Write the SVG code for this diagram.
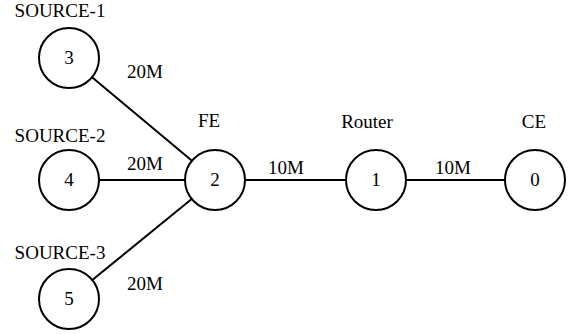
<svg xmlns="http://www.w3.org/2000/svg" width="570" height="334" viewBox="0 0 570 334">
<style>
text{font-family:"Liberation Serif","Times New Roman",serif;font-size:19px;fill:#000}
.n circle{fill:#fff;stroke:#000;stroke-width:2}
.n text{text-anchor:middle}
#edges line{stroke:#000;stroke-width:2}
</style>
<rect width="570" height="334" fill="#fff"/>
<g id="edges">
<line x1="69" y1="58" x2="215" y2="180"/>
<line x1="69" y1="180" x2="215" y2="180"/>
<line x1="69" y1="299" x2="215" y2="180"/>
<line x1="215" y1="180" x2="376" y2="180"/>
<line x1="376" y1="180" x2="535" y2="180"/>
<text x="127" y="78">20M</text>
<text x="127" y="170">20M</text>
<text x="127" y="290">20M</text>
<text x="268" y="174">10M</text>
<text x="435" y="174">10M</text>
</g>
<g id="node3" class="n"><circle cx="69" cy="58" r="30"/><text x="69" y="64">3</text><text x="60" y="17">SOURCE-1</text></g>
<g id="node4" class="n"><circle cx="69" cy="180" r="30"/><text x="69" y="186">4</text><text x="60" y="142">SOURCE-2</text></g>
<g id="node5" class="n"><circle cx="69" cy="299" r="30"/><text x="69" y="305">5</text><text x="60" y="259">SOURCE-3</text></g>
<g id="node2" class="n"><circle cx="215" cy="180" r="30"/><text x="215" y="186">2</text><text x="209" y="127">FE</text></g>
<g id="node1" class="n"><circle cx="376" cy="180" r="30"/><text x="376" y="186">1</text><text x="367" y="128">Router</text></g>
<g id="node0" class="n"><circle cx="535" cy="180" r="30"/><text x="535" y="186">0</text><text x="534" y="128">CE</text></g>
</svg>
